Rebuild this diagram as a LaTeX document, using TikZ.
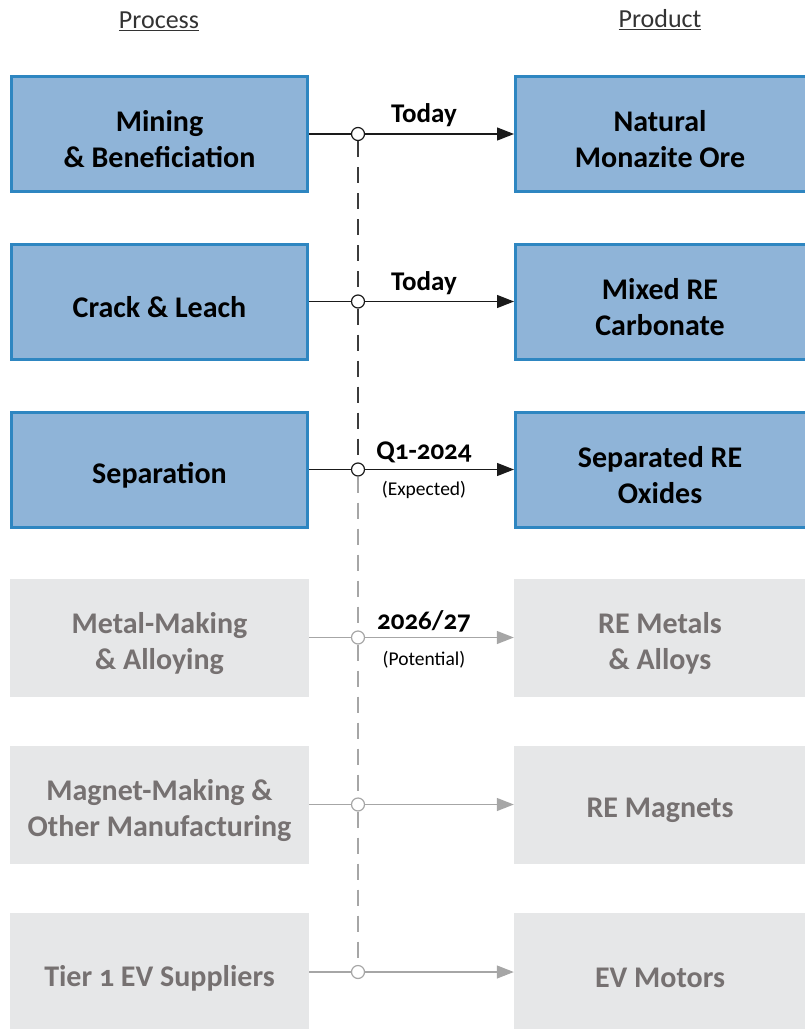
\documentclass[tikz,border=0pt]{standalone}
\usepackage{fontspec}
\setmainfont{Carlito}[Numbers=OldStyle]
\usetikzlibrary{arrows.meta}
\definecolor{boxblue}{HTML}{8FB4D8}
\definecolor{edgeblue}{HTML}{2E86C1}
\definecolor{boxgrey}{HTML}{E6E7E8}
\definecolor{textgrey}{HTML}{767171}
\definecolor{linedark}{HTML}{1A1A1A}
\definecolor{linelight}{HTML}{A6A6A6}
\definecolor{headgrey}{HTML}{333333}
\begin{document}
\begin{tikzpicture}[x=1pt,y=-1pt,
  done/.style={inner sep=0pt, fill=boxblue, draw=edgeblue, line width=3pt,
    minimum height=115pt},
  future/.style={inner sep=0pt, fill=boxgrey, minimum height=118pt},
  stagetext/.style={inner sep=0pt, align=center,
    font=\fontsize{30}{36}\selectfont\bfseries},
  latertext/.style={stagetext, text=textgrey},
  head/.style={text=headgrey, font=\fontsize{26}{30}\selectfont, inner sep=0pt},
  when/.style={inner sep=0pt, font=\fontsize{27}{30}\selectfont\bfseries},
  note/.style={inner sep=0pt, font=\fontsize{19.5}{22}\selectfont},
  hub/.style={circle, minimum size=13pt, inner sep=0pt, fill=white,
    line width=1.2pt},
  flowdone/.style={draw=linedark, line width=1.3pt,
    -{Triangle[length=17pt,width=13pt]}},
  flowlater/.style={draw=linelight, line width=1.3pt,
    -{Triangle[length=17pt,width=13pt]}},
  spine/.style={line width=1.2pt, dash pattern=on 16pt off 10pt},
]
\useasboundingbox (0,0) rectangle (805,1029);

% column headings
\node[head] (hproc) at (159,21) {\underline{Process}};
\node[head] (hprod) at (660,20) {\underline{Product}};

% process column boxes
\node[done, minimum width=296pt] (p1) at (159.5,134) {};
\node[done, minimum width=296pt] (p2) at (159.5,301.5) {};
\node[done, minimum width=296pt] (p3) at (159.5,469.5) {};
\node[future, minimum width=299pt] (p4) at (159.5,637.5) {};
\node[future, minimum width=299pt] (p5) at (159.5,804.5) {};
\node[future, minimum width=299pt] (p6) at (159.5,972) {};

% product column boxes
\node[done, minimum width=294.5pt] (r1) at (662.75,134) {};
\node[done, minimum width=294.5pt] (r2) at (662.75,301.5) {};
\node[done, minimum width=294.5pt] (r3) at (662.75,469.5) {};
\node[future, minimum width=296pt] (r4) at (662,637.5) {};
\node[future, minimum width=296pt] (r5) at (662,804.5) {};
\node[future, minimum width=296pt] (r6) at (662,972) {};

% box texts
\node[stagetext] (p1t) at ([yshift=-5.5pt]p1.center) {Mining\\\& Beneficiation};
\node[stagetext] (p2t) at ([yshift=-6pt]p2.center) {Crack \& Leach};
\node[stagetext] (p3t) at ([yshift=-6pt]p3.center) {Separation};
\node[latertext] (p4t) at ([yshift=-6pt]p4.center) {Metal-Making\\\& Alloying};
\node[latertext] (p5t) at ([yshift=-6pt]p5.center) {Magnet-Making \&\\Other Manufacturing};
\node[latertext] (p6t) at ([yshift=-6pt]p6.center) {Tier 1 EV Suppliers};
\node[stagetext] (r1t) at ([xshift=-2.75pt,yshift=-5.5pt]r1.center) {Natural\\Monazite Ore};
\node[stagetext] (r2t) at ([xshift=-2.75pt,yshift=-6pt]r2.center) {Mixed RE\\Carbonate};
\node[stagetext] (r3t) at ([xshift=-2.75pt,yshift=-6pt]r3.center) {Separated RE\\Oxides};
\node[latertext] (r4t) at ([xshift=-2pt,yshift=-6pt]r4.center) {RE Metals\\\& Alloys};
\node[latertext] (r5t) at ([xshift=-2pt,yshift=-6pt]r5.center) {RE Magnets};
\node[latertext] (r6t) at ([xshift=-2pt,yshift=-6pt]r6.center) {EV Motors};

% process-to-product arrows
\draw[flowdone] (p1.east) -- (r1.west);
\draw[flowdone] (p2.east) -- (r2.west);
\draw[flowdone] (p3.east) -- (r3.west);
\draw[flowlater] (p4.east) -- (r4.west);
\draw[flowlater] (p5.east) -- (r5.west);
\draw[flowlater] (p6.east) -- (r6.west);

% timeline hubs
\node[hub, draw=linedark] (k1) at (358,134) {};
\node[hub, draw=linedark] (k2) at (358,301.5) {};
\node[hub, draw=linedark] (k3) at (358,469.5) {};
\node[hub, draw=linelight] (k4) at (358,637.5) {};
\node[hub, draw=linelight] (k5) at (358,804.5) {};
\node[hub, draw=linelight] (k6) at (358,972) {};

% dashed timeline
\draw[spine, draw=linedark!85] (k1.south) -- (k2.north);
\draw[spine, draw=linedark!85] (k2.south) -- (k3.north);
\draw[spine, draw=linelight] (k3.south) -- (k4.north);
\draw[spine, draw=linelight] (k4.south) -- (k5.north);
\draw[spine, draw=linelight] (k5.south) -- (k6.north);

% timing labels
\node[when] (t1) at (424,115) {Today};
\node[when] (t2) at (424,283) {Today};
\node[when] (t3) at (424,452) {Q1-2024};
\node[note] (n3) at (424,490) {(Expected)};
\node[when] (t4) at (424,621) {2026/27};
\node[note] (n4) at (424,660) {(Potential)};
\end{tikzpicture}
\end{document}
